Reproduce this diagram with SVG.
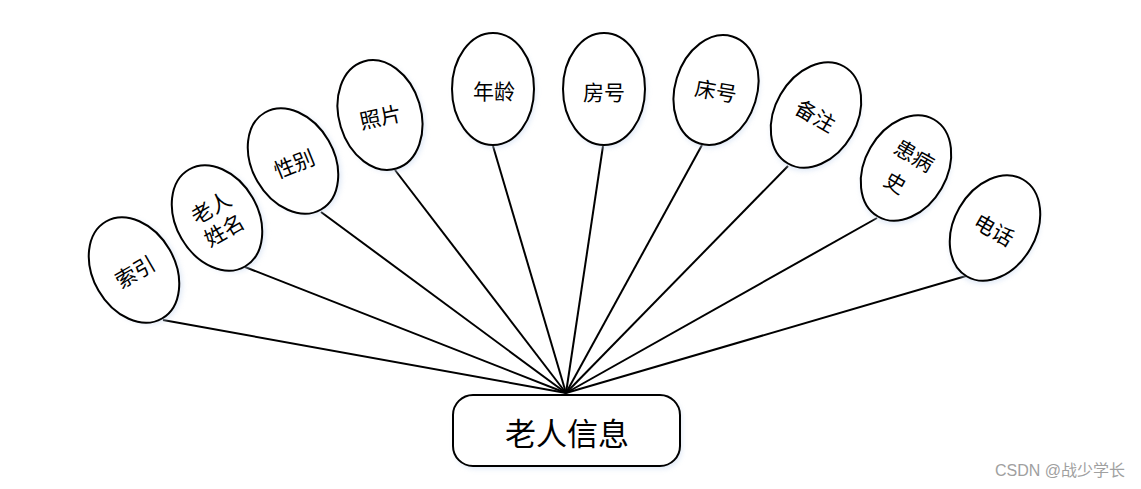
<svg xmlns="http://www.w3.org/2000/svg" width="1141" height="489" viewBox="0 0 1141 489">
<style>
.e{fill:#fff;stroke:#000;stroke-width:2}
.s{fill:#c9d9f0;opacity:0.55;filter:url(#bl)}
.t{font-family:"Noto Sans CJK SC","Noto Sans CJK JP",sans-serif;font-size:21px;fill:#000;text-anchor:middle;dominant-baseline:central}
.c{stroke:#000;stroke-width:2;fill:none}
</style>
<defs>
<filter id="bl" x="-30%" y="-30%" width="160%" height="160%">
<feGaussianBlur stdDeviation="2.5"/>
</filter>
<ellipse id="el" rx="41" ry="56"/>
</defs>
<rect width="1141" height="489" fill="#fff"/>
<g id="connectors">
<line class="c" x1="566" y1="393" x2="163" y2="320"/>
<line class="c" x1="566" y1="393" x2="245" y2="267"/>
<line class="c" x1="566" y1="393" x2="321" y2="212"/>
<line class="c" x1="566" y1="393" x2="395" y2="170"/>
<line class="c" x1="566" y1="393" x2="493" y2="146"/>
<line class="c" x1="566" y1="393" x2="603" y2="146"/>
<line class="c" x1="566" y1="393" x2="702" y2="145"/>
<line class="c" x1="566" y1="393" x2="788" y2="166"/>
<line class="c" x1="566" y1="393" x2="877" y2="218"/>
<line class="c" x1="566" y1="393" x2="966" y2="276"/>
</g>
<g id="n-index" transform="translate(134,270) rotate(-30)">
<use href="#el" class="s" x="2" y="3"/>
<use href="#el" class="e"/>
<text class="t" x="0" y="1">索引</text>
</g>
<g id="n-name" transform="translate(217,218) rotate(-30)">
<use href="#el" class="s" x="2" y="3"/>
<use href="#el" class="e"/>
<text class="t" x="0" y="-13">老人</text>
<text class="t" x="0" y="13">姓名</text>
</g>
<g id="n-sex" transform="translate(293,161) rotate(-30)">
<use href="#el" class="s" x="2" y="3"/>
<use href="#el" class="e"/>
<text class="t" transform="rotate(8)" x="0" y="2">性别</text>
</g>
<g id="n-photo" transform="translate(380,115) rotate(-17)">
<use href="#el" class="s" x="2" y="3"/>
<use href="#el" class="e"/>
<text class="t" transform="rotate(5)" x="0" y="1">照片</text>
</g>
<g id="n-age" transform="translate(493,89)">
<use href="#el" class="s" x="2" y="3"/>
<use href="#el" class="e"/>
<text class="t" x="1" y="1">年龄</text>
</g>
<g id="n-room" transform="translate(604,89)">
<use href="#el" class="s" x="2" y="3"/>
<use href="#el" class="e"/>
<text class="t" x="0" y="2">房号</text>
</g>
<g id="n-bed" transform="translate(716,90) rotate(17)">
<use href="#el" class="s" x="2" y="3"/>
<use href="#el" class="e"/>
<text class="t" transform="rotate(-7)" x="0" y="0">床号</text>
</g>
<g id="n-note" transform="translate(816,115) rotate(30)">
<use href="#el" class="s" x="2" y="3"/>
<use href="#el" class="e"/>
<text class="t" x="0" y="0">备注</text>
</g>
<g id="n-history" transform="translate(906,168) rotate(30)">
<use href="#el" class="s" x="2" y="3"/>
<use href="#el" class="e"/>
<text class="t" x="1" y="-16">患病</text>
<text class="t" x="-2" y="17">史</text>
</g>
<g id="n-phone" transform="translate(995,228) rotate(30)">
<use href="#el" class="s" x="2" y="3"/>
<use href="#el" class="e"/>
<text class="t" x="0" y="1">电话</text>
</g>
<g id="n-center">
<rect class="s" x="455" y="398" width="227" height="71" rx="20" ry="20"/>
<rect class="e" x="453" y="395" width="227" height="71" rx="20" ry="20"/>
<text class="t" x="567" y="431" style="font-size:31px">老人信息</text>
</g>
<text x="1125" y="476" style="font-family:'Liberation Sans','Noto Sans CJK SC',sans-serif;font-size:16px;fill:#a0a0a0;text-anchor:end">CSDN @战少学长</text>
</svg>
